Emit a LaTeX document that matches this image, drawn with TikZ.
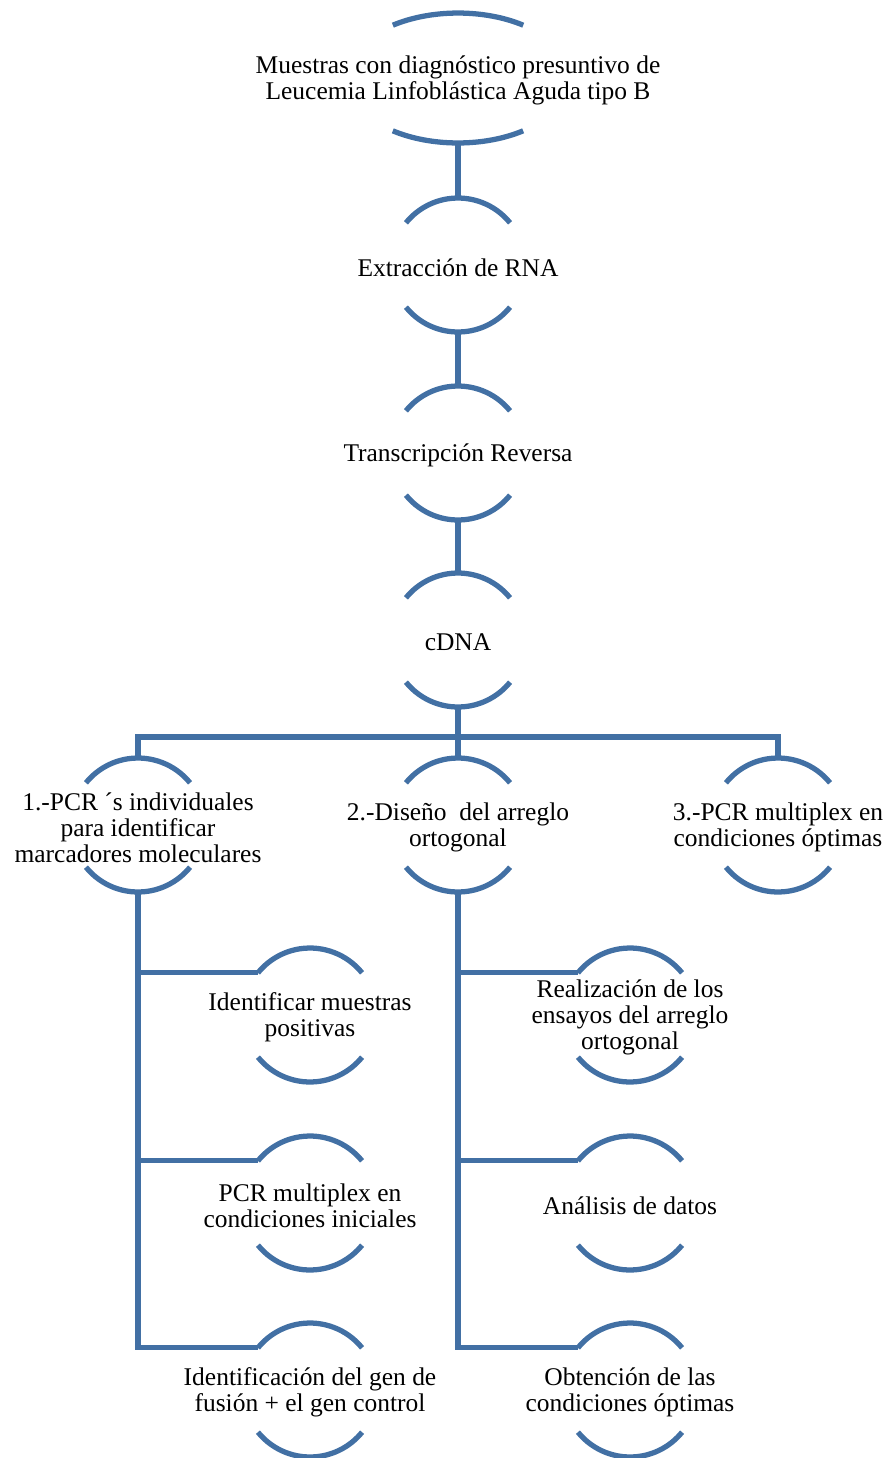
\documentclass[tikz,border=0pt]{standalone}
\usepackage{fontspec}
\setmainfont{Liberation Serif}
\usetikzlibrary{shapes.geometric}
\definecolor{arcblue}{RGB}{66,112,164}
\tikzset{
  bubble/.style={circle, minimum size=2.68cm, inner sep=0pt, outer sep=0pt},
  bigbubble/.style={ellipse, minimum width=4.48cm, minimum height=2.6cm, inner sep=0pt, outer sep=0pt},
  txt/.style={align=center, font=\fontsize{14.5}{14.8}\selectfont, inner sep=0pt, yshift=-0.05cm},
  link/.style={draw=arcblue, line width=3pt},
}
\begin{document}
\begin{tikzpicture}[x=0.02cm,y=0.02cm]
\useasboundingbox (0,0) rectangle (888,-1458);
% main chain
\node[bigbubble, label={[txt]center:{Muestras con diagnóstico presuntivo de\\Leucemia Linfoblástica Aguda tipo B}}] (top) at (458,-78) {};
\node[bubble, label={[txt]center:{Extracción de RNA}}] (rna) at (458,-265) {};
\node[bubble, label={[txt]center:{Transcripción Reversa}}] (rt) at (458,-453) {};
\node[bubble, label={[txt]center:{cDNA}}] (cdna) at (458,-640) {};
% three branches
\node[bubble, label={[txt]center:{1.-PCR ´s individuales\\para identificar\\marcadores moleculares}}] (c1) at (138,-825) {};
\node[bubble, label={[txt]center:{2.-Diseño\ \ del arreglo\\ortogonal}}] (c2) at (458,-825) {};
\node[bubble, label={[txt]center:{3.-PCR multiplex en\\condiciones óptimas}}] (c3) at (778,-825) {};
% left column
\node[bubble, label={[txt]center:{Identificar muestras\\positivas}}] (l1) at (310,-1015) {};
\node[bubble, label={[txt]center:{PCR multiplex en\\condiciones iniciales}}] (l2) at (310,-1203) {};
\node[bubble, label={[txt]center:{Identificación del gen de\\fusión + el gen control}}] (l3) at (310,-1390) {};
% right column
\node[bubble, label={[txt]center:{Realización de los\\ensayos del arreglo\\ortogonal}}] (r1) at (630,-1015) {};
\node[bubble, label={[txt]center:{Análisis de datos}}] (r2) at (630,-1203) {};
\node[bubble, label={[txt]center:{Obtención de las\\condiciones óptimas}}] (r3) at (630,-1390) {};
% arcs
\draw[link] (top.39) arc[start angle=54.4, end angle=125.6, x radius=2.24cm, y radius=1.3cm]
            (top.219) arc[start angle=234.4, end angle=305.6, x radius=2.24cm, y radius=1.3cm];
\foreach \n in {rna,rt,cdna,c1,c2,c3,l1,l2,l3,r1,r2,r3}
  \draw[link] (\n.39) arc[start angle=39, end angle=141, radius=1.34cm]
              (\n.219) arc[start angle=219, end angle=321, radius=1.34cm];
% connectors
\draw[link] (top) -- (rna);
\draw[link] (rna) -- (rt);
\draw[link] (rt) -- (cdna);
\coordinate (split) at (458,-737);
\draw[link] (cdna) -- (split);
\draw[link] (c1) |- (split) -| (c3);
\draw[link] (split) -- (c2);
\draw[link] (c1) |- (l3.141);
\draw[link] (c1 |- l1.141) -- (l1.141);
\draw[link] (c1 |- l2.141) -- (l2.141);
\draw[link] (c2) |- (r3.141);
\draw[link] (c2 |- r1.141) -- (r1.141);
\draw[link] (c2 |- r2.141) -- (r2.141);
\end{tikzpicture}
\end{document}
